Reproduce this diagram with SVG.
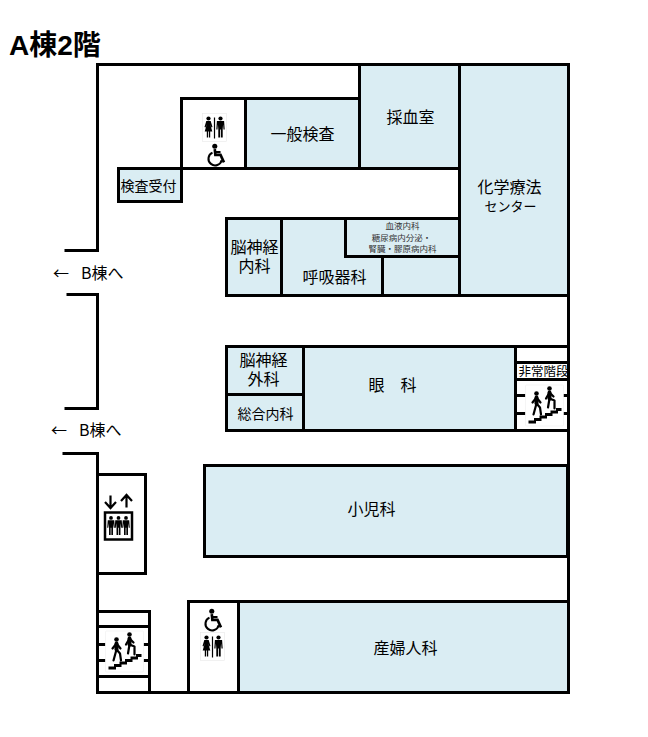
<svg xmlns="http://www.w3.org/2000/svg" xmlns:xlink="http://www.w3.org/1999/xlink" width="648" height="737" viewBox="0 0 648 737">
<style>
.room{fill:#daedf3;stroke:#000;stroke-width:3}
.plain{fill:#fff;stroke:#000;stroke-width:3}
.wall{fill:none;stroke:#000;stroke-width:3}
text{font-family:"Noto Sans CJK JP","Noto Sans",sans-serif;fill:#000;text-anchor:middle}
.t16{font-size:16px}
.t14{font-size:14px}
.t13{font-size:13px}
.t12{font-size:12.500px}
.t8{font-size:8.500px;fill:#333}
.b{text-anchor:start;font-size:16px}
.limb{fill:none;stroke:#000;stroke-linejoin:round;stroke-linecap:round}
</style>
<defs>
<g id="man"><circle cx="0" cy="-9.500" r="2.100"/><path d="M-3.600-7H3.600L4.200 1.500H3L2.600-3.500 2.200 1 2.200 9.500H.4V1.500H-.4V9.500H-2.200V1L-2.600-3.500-3 1.500H-4.200Z"/></g>
<g id="woman"><circle cx="0" cy="-9.500" r="2.100"/><path d="M-2.200-7H2.200L4-1 3-.5 1.800-3.500 3.800 3.500H1.700V9.500H.4V3.500H-.4V9.500H-1.700V3.500H-3.800L-1.800-3.500-3-.5-4-1Z"/></g>
<g id="wc"><rect x="-12" y="-14" width="24" height="28" fill="#fff" stroke="#e8e8e8" stroke-width=".6"/><use xlink:href="#woman" x="-6" y=".5"/><rect x="-.6" y="-10" width="1.200" height="21"/><use xlink:href="#man" x="6" y=".5"/></g>
<g id="wheel"><circle cx="-1.500" cy="-8" r="2.200" fill="#000"/><path d="M-1.500-5.500-1-.5H3.500L6.500 6" fill="none" stroke="#000" stroke-width="2.300"/><path d="M-1.500-3H3.500" fill="none" stroke="#000" stroke-width="1.800"/><path d="M-3.500-2.500A5.800 5.800 0 1 0 4.500 4" fill="none" stroke="#000" stroke-width="1.800"/></g>
<g id="stairs"><rect x="-19" y="-20.500" width="38" height="41" rx="1" fill="#fff" stroke="#eee" stroke-width=".6"/>
<path d="M-16 18V15H-10.500V12.500H-5V10H.5V7.500H6V5H11.500V2.500H17V5.500H13.500V8H8V10.500H2.500V13H-3V15.500H-8.500V18Z"/>
<circle cx="-8" cy="-12" r="2.300"/><path class="limb" stroke-width="4" d="M-8-8V-2"/><path class="limb" stroke-width="2.200" d="M-8-2-11 9M-8-2-4.500 2-3.500 9M-8-8-12-3M-8-8-4-3"/>
<circle cx="5" cy="-17" r="2.300"/><path class="limb" stroke-width="4" d="M5-13V-7"/><path class="limb" stroke-width="2.200" d="M5-7 10-5 10 3M5-7 3.500 2M5-13 1.500-7M5-13 9-9"/></g>
</defs>
<text id="title" x="9" y="55" style="font-size:28px;font-weight:700;text-anchor:start;font-family:'Liberation Sans','Noto Sans CJK JP',sans-serif">A棟2階</text>
<g transform="translate(.5 .5)">
<g id="walls" class="wall">
<path d="M64 250H97V64H568V692H97V453H62"/>
<path d="M66 294H97V408H64"/>
</g>
<g id="room-wc-upper"><rect class="plain" x="181" y="98" width="64" height="70"/><use xlink:href="#wc" x="214" y="127"/><g transform="translate(216 155) scale(1.150)"><use xlink:href="#wheel"/></g></g>
<g id="room-kensa"><rect class="room" x="245" y="98" width="114" height="70"/><text class="t16" x="302" y="139">一般検査</text></g>
<g id="room-uketsuke"><rect class="room" x="118" y="168" width="63" height="33"/><text class="t14" x="148" y="190">検査受付</text></g>
<g id="room-saiketsu"><rect class="room" x="359" y="64" width="100" height="104"/><text class="t16" x="410" y="122">採血室</text></g>
<g id="room-kagaku"><rect class="room" x="459" y="64" width="109" height="231"/><text class="t16" x="509" y="192">化学療法</text><text class="t13" x="510" y="210">センター</text></g>
<g id="room-nou-naika"><rect class="room" x="226" y="218" width="55" height="77"/><text class="t16" x="254" y="252">脳神経</text><text class="t16" x="254" y="271">内科</text></g>
<g id="room-kokyuki"><path class="room" d="M281 218H345V256H382V295H281Z"/><text class="t16" x="334" y="282">呼吸器科</text></g>
<g id="room-ketsueki"><rect class="room" x="345" y="218" width="114" height="38"/><text class="t8" x="402" y="228">血液内科</text><text class="t8" x="401" y="240">糖尿病内分泌・</text><text class="t8" x="402" y="251">腎臓・膠原病内科</text></g>
<g id="room-blank"><rect class="room" x="382" y="256" width="77" height="39"/></g>
<g id="room-nou-geka"><rect class="room" x="226" y="346" width="77" height="48"/><text class="t16" x="263" y="365">脳神経</text><text class="t16" x="263" y="384">外科</text></g>
<g id="room-sogo"><rect class="room" x="226" y="394" width="77" height="36"/><text class="t14" x="265" y="418">総合内科</text></g>
<g id="room-ganka"><rect class="room" x="303" y="346" width="212" height="84"/><text class="t16" x="392" y="390">眼　科</text></g>
<g id="stairs-east"><rect class="plain" x="515" y="346" width="53" height="84"/><path class="wall" d="M515 362H568M515 379H568M515 395H525M562 395H568M515 413H525M562 413H568"/><text class="t12" x="543" y="375">非常階段</text><use xlink:href="#stairs" x="544" y="405"/></g>
<g id="room-shoni"><rect class="room" x="204" y="465" width="363" height="91"/><text class="t16" x="371" y="514">小児科</text></g>
<g id="elevator"><path class="wall" d="M97 474H145V573H97"/><path d="M110 507V495M104.500 501.500 110 507.500 115.500 501.500M126 507V495M120.500 500.500 126 494.500 131.500 500.500" fill="none" stroke="#000" stroke-width="2.200"/><rect x="104.500" y="512" width="27" height="27" fill="#fff" stroke="#000" stroke-width="2.500"/><g transform="translate(110.500 526) scale(.9)"><use xlink:href="#man"/></g><g transform="translate(118 526) scale(.9)"><use xlink:href="#man"/></g><g transform="translate(125.500 526) scale(.9)"><use xlink:href="#man"/></g></g>
<g id="stairs-west"><path class="wall" d="M97 611H149V692M97 626H149M97 644H105M143 644H149M97 660H105M143 660H149M97 676H149"/><use xlink:href="#stairs" x="124" y="651"/></g>
<g id="room-wc-lower"><rect class="plain" x="188" y="601" width="50" height="91"/><g transform="translate(213 620) scale(1.150)"><use xlink:href="#wheel"/></g><use xlink:href="#wc" x="212" y="646"/></g>
<g id="room-sanfu"><rect class="room" x="238" y="601" width="330" height="91"/><text class="t16" x="405" y="653">産婦人科</text></g>
<g id="connectors"/>
</g>
<text class="b" x="53" y="279">←</text><text class="b" x="81" y="279">B棟へ</text>
<text class="b" x="51" y="436">←</text><text class="b" x="79" y="436">B棟へ</text>
</svg>
